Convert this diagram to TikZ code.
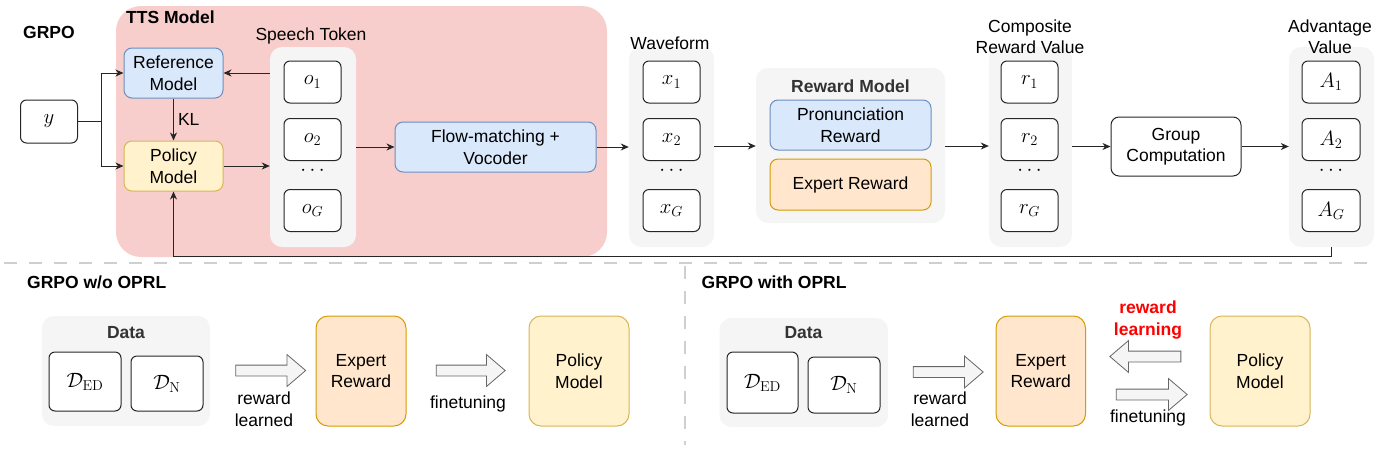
\documentclass[tikz,border=0pt]{standalone}
\usepackage[no-math]{fontspec}
\setmainfont{Liberation Sans}
\usetikzlibrary{arrows.meta,shapes.arrows,calc}
\definecolor{pinkF}{HTML}{F8CECC}
\definecolor{blueF}{HTML}{DAE8FC}
\definecolor{blueD}{HTML}{6C8EBF}
\definecolor{yelF}{HTML}{FFF2CC}
\definecolor{yelD}{HTML}{D6B656}
\definecolor{orF}{HTML}{FFE6CC}
\definecolor{orD}{HTML}{D79B00}
\definecolor{grayF}{HTML}{F5F5F5}
\definecolor{grayD}{HTML}{666666}
\definecolor{grayT}{HTML}{333333}
\definecolor{sepC}{HTML}{CFCFCF}
\begin{document}
\begin{tikzpicture}[x=1pt,y=-1pt,
  txt/.style={font=\fontsize{17.5}{21.5}\selectfont, align=center, inner sep=0pt},
  btxt/.style={font=\fontsize{17.5}{21.5}\selectfont\bfseries, align=center, inner sep=0pt},
  mth/.style={font=\fontsize{22}{26}\selectfont, inner sep=0pt},
  box/.style={draw=black!85, line width=1pt, rounded corners=6pt, fill=white, align=center, inner sep=0pt, font=\fontsize{22}{26}\selectfont},
  wbox/.style={draw=black!85, line width=1pt, rounded corners=8pt, fill=white, txt},
  bluebox/.style={draw=blueD, line width=1pt, rounded corners=8pt, fill=blueF, txt},
  yelbox/.style={draw=yelD, line width=1pt, rounded corners=8pt, fill=yelF, txt},
  orbox/.style={draw=orD, line width=1pt, rounded corners=8pt, fill=orF, txt},
  grp/.style={draw=none, fill=grayF, rounded corners=12pt, inner sep=0pt},
  arr/.style={-{Stealth[length=8pt,width=7pt,inset=2.5pt]}, line width=1pt, draw=black!85},
  blk/.style={single arrow, draw=grayD, fill=grayF, line width=0.8pt, minimum height=70pt, inner sep=5pt, single arrow head extend=10.5pt, single arrow tip angle=81},
  sep/.style={draw=sepC, line width=2pt, dash pattern=on 13pt off 12pt}
]
\useasboundingbox (0,0) rectangle (1384,456);

% ---------- top: GRPO ----------
\node[btxt] (grpo) at (49,32) {GRPO};
\node[draw=none, fill=pinkF, rounded corners=25pt, minimum width=491pt, minimum height=251pt, inner sep=0pt] (tts) at (361.5,131.5) {};
\node[btxt, anchor=west] (ttsl) at (126,17) {TTS Model};

\node[box, minimum width=57pt, minimum height=43pt] (ybox) at (49,121.5) {$y$};
\node[bluebox, minimum width=99pt, minimum height=50pt] (ref) at (173.5,73) {Reference\\Model};
\node[yelbox, minimum width=99pt, minimum height=50pt] (pol) at (173.5,166) {Policy\\Model};

% speech tokens
\node[grp, minimum width=86pt, minimum height=200pt] (sg) at (313,147) {};
\node[txt] (sgl) at (311,36) {Speech Token};
\node[box, minimum width=57pt, minimum height=42pt] (o1) at (312.5,82) {$o_1$};
\node[box, minimum width=57pt, minimum height=42pt] (o2) at (312.5,139.5) {$o_2$};
\node[mth] (od) at (312.5,171) {$\cdots$};
\node[box, minimum width=57pt, minimum height=42pt] (oG) at (312.5,210.5) {$o_G$};

\node[bluebox, minimum width=201pt, minimum height=50pt] (flow) at (495.5,147) {Flow-matching +\\Vocoder};

% waveform
\node[grp, minimum width=85pt, minimum height=200pt] (wg) at (671.5,147) {};
\node[txt] (wgl) at (670,43) {Waveform};
\node[box, minimum width=57pt, minimum height=42pt] (x1) at (671.5,82) {$x_1$};
\node[box, minimum width=57pt, minimum height=42pt] (x2) at (671.5,139.5) {$x_2$};
\node[mth] (xd) at (671.5,171) {$\cdots$};
\node[box, minimum width=57pt, minimum height=42pt] (xG) at (671.5,210.5) {$x_G$};

% reward model
\node[grp, minimum width=189pt, minimum height=155pt] (rg) at (850.5,145.5) {};
\node[btxt, text=grayT] (rgl) at (850.5,86) {Reward Model};
\node[bluebox, minimum width=161pt, minimum height=50pt] (pron) at (850.5,125) {Pronunciation\\Reward};
\node[orbox, minimum width=161pt, minimum height=51pt] (exp) at (850.5,184.5) {Expert Reward};

% composite reward
\node[grp, minimum width=83pt, minimum height=200pt] (cg) at (1030.5,147) {};
\node[txt] (cgl) at (1030,36.5) {Composite\\Reward Value};
\node[box, minimum width=57pt, minimum height=42pt] (r1) at (1029.5,82) {$r_1$};
\node[box, minimum width=57pt, minimum height=42pt] (r2) at (1029.5,139.5) {$r_2$};
\node[mth] (rd) at (1029.5,171) {$\cdots$};
\node[box, minimum width=57pt, minimum height=42pt] (rG) at (1029.5,210.5) {$r_G$};

\node[wbox, minimum width=130pt, minimum height=59pt] (gc) at (1176,146.5) {Group\\Computation};

% advantage
\node[grp, minimum width=85pt, minimum height=200pt] (ag) at (1331.5,147) {};
\node[txt] (agl) at (1330,36.5) {Advantage\\Value};
\node[box, minimum width=58pt, minimum height=42pt] (a1) at (1331,82) {$A_1$};
\node[box, minimum width=58pt, minimum height=42pt] (a2) at (1331,139.5) {$A_2$};
\node[mth] (ad) at (1331,171) {$\cdots$};
\node[box, minimum width=58pt, minimum height=42pt] (aG) at (1331,210.5) {$A_G$};

% connectors
\draw[arr] (ybox.east) -- ++(23,0) |- (ref.west);
\draw[arr] (ybox.east) -- ++(23,0) |- (pol.west);
\draw[arr] (ref.south) -- node[txt, right=4pt] (kl) {KL} (pol.north);
\draw[arr] (sg.west |- ref.east) -- (ref.east);
\draw[arr] (pol.east) -- (pol.east -| sg.west);
\draw[arr] (sg.east |- flow.west) -- (flow.west);
\draw[arr] (flow.east) -- (flow.east -| wg.west);
\draw[arr] (wg.east |- 0,146) -- (rg.west |- 0,146);
\draw[arr] (rg.east |- 0,146) -- (cg.west |- 0,146);
\draw[arr] (cg.east |- gc.west) -- (gc.west);
\draw[arr] (gc.east) -- (gc.east -| ag.west);
\draw[arr] (ag.south) -- ++(0,9) -| (pol.south);

% separators
\coordinate (hs0) at (4,263);
\coordinate (hs1) at (1372,263);
\coordinate (vs0) at (685,266);
\coordinate (vs1) at (685,445);
\draw[sep] (hs0) -- (hs1);
\draw[sep] (vs0) -- (vs1);

% ---------- bottom left: GRPO w/o OPRL ----------
\node[btxt, anchor=west] (t1) at (27,282) {GRPO w/o OPRL};
\node[grp, minimum width=168pt, minimum height=110pt] (d1) at (126,371) {};
\node[btxt, text=grayT] (d1l) at (126,333) {Data};
\node[box, minimum width=72pt, minimum height=59pt] (ded1) at (85,381.5) {$\mathcal{D}_{\mathrm{ED}}$};
\node[box, minimum width=72pt, minimum height=55pt] (dn1) at (167,383.5) {$\mathcal{D}_{\mathrm{N}}$};
\node[blk] (b1) at (267.5,370.5) {};
\node[txt] (b1l) at (264,409) {reward\\learned};
\node[orbox, rounded corners=12pt, minimum width=90pt, minimum height=110pt] (er1) at (361,371) {Expert\\Reward};
\node[blk, minimum height=69pt] (b2) at (467.5,370.5) {};
\node[txt] (b2l) at (468,404) {finetuning};
\node[yelbox, rounded corners=12pt, minimum width=100pt, minimum height=110pt] (pm1) at (579,371) {Policy\\Model};

% ---------- bottom right: GRPO with OPRL ----------
\node[btxt, anchor=west] (t2) at (701.5,282) {GRPO with OPRL};
\node[grp, minimum width=168.5pt, minimum height=109pt] (d2) at (803.75,372.5) {};
\node[btxt, text=grayT] (d2l) at (803.5,333) {Data};
\node[box, minimum width=71pt, minimum height=61pt] (ded2) at (762.5,382.5) {$\mathcal{D}_{\mathrm{ED}}$};
\node[box, minimum width=72pt, minimum height=56pt] (dn2) at (844,385) {$\mathcal{D}_{\mathrm{N}}$};
\node[blk] (b3) at (945,372) {};
\node[txt] (b3l) at (940,409) {reward\\learned};
\node[orbox, rounded corners=12pt, minimum width=89.5pt, minimum height=110pt] (er2) at (1040.75,371) {Expert\\Reward};
\node[blk, minimum height=71pt, shape border rotate=180] (b4) at (1148.5,356.5) {};
\node[blk, minimum height=71pt] (b5) at (1148.5,394.5) {};
\node[btxt, text=red] (b4l) at (1148,320) {reward\\learning};
\node[txt] (b5l) at (1148,418) {finetuning};
\node[yelbox, rounded corners=12pt, minimum width=100pt, minimum height=110pt] (pm2) at (1260,371) {Policy\\Model};
\end{tikzpicture}
\end{document}
